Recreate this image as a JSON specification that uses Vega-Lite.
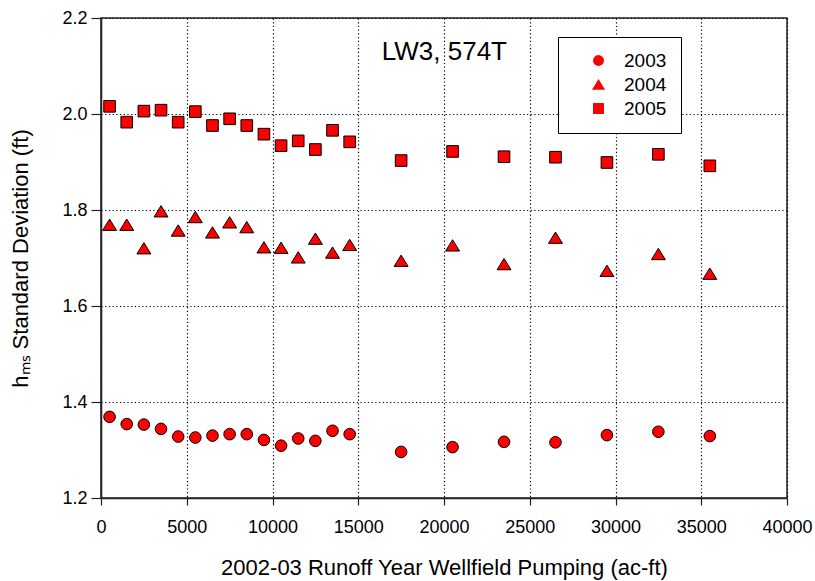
{
  "$schema": "https://vega.github.io/schema/vega-lite/v6.json",
  "width": 686,
  "height": 480,
  "autosize": {"type": "none"},
  "padding": {"left": 101, "top": 18, "right": 28, "bottom": 83},
  "background": "white",
  "config": {
    "font": "Liberation Sans",
    "view": {"stroke": "#222", "strokeWidth": 1.5},
    "axis": {
      "domainColor": "#222",
      "domainWidth": 1.5,
      "tickColor": "#222",
      "tickWidth": 1.2,
      "gridColor": "black",
      "gridDash": [1.2, 2.5],
      "gridWidth": 1.2,
      "gridOpacity": 1,
      "labelColor": "black",
      "titleColor": "black",
      "labelFont": "Liberation Sans",
      "titleFont": "Liberation Sans",
      "titleFontWeight": "normal",
      "labelFontSize": 18,
      "titleFontSize": 22
    }
  },
  "datasets": {
    "pts": [
      {"year": "2003", "pumping": 500, "sd": 1.369},
      {"year": "2003", "pumping": 1500, "sd": 1.354},
      {"year": "2003", "pumping": 2500, "sd": 1.353},
      {"year": "2003", "pumping": 3500, "sd": 1.344},
      {"year": "2003", "pumping": 4500, "sd": 1.328},
      {"year": "2003", "pumping": 5500, "sd": 1.326},
      {"year": "2003", "pumping": 6500, "sd": 1.330},
      {"year": "2003", "pumping": 7500, "sd": 1.333},
      {"year": "2003", "pumping": 8500, "sd": 1.333},
      {"year": "2003", "pumping": 9500, "sd": 1.321},
      {"year": "2003", "pumping": 10500, "sd": 1.309},
      {"year": "2003", "pumping": 11500, "sd": 1.324},
      {"year": "2003", "pumping": 12500, "sd": 1.319},
      {"year": "2003", "pumping": 13500, "sd": 1.340},
      {"year": "2003", "pumping": 14500, "sd": 1.333},
      {"year": "2003", "pumping": 17500, "sd": 1.296},
      {"year": "2003", "pumping": 20500, "sd": 1.306},
      {"year": "2003", "pumping": 23500, "sd": 1.317},
      {"year": "2003", "pumping": 26500, "sd": 1.316},
      {"year": "2003", "pumping": 29500, "sd": 1.331},
      {"year": "2003", "pumping": 32500, "sd": 1.338},
      {"year": "2003", "pumping": 35500, "sd": 1.329},
      {"year": "2004", "pumping": 500, "sd": 1.769},
      {"year": "2004", "pumping": 1500, "sd": 1.769},
      {"year": "2004", "pumping": 2500, "sd": 1.720},
      {"year": "2004", "pumping": 3500, "sd": 1.797},
      {"year": "2004", "pumping": 4500, "sd": 1.757},
      {"year": "2004", "pumping": 5500, "sd": 1.785},
      {"year": "2004", "pumping": 6500, "sd": 1.753},
      {"year": "2004", "pumping": 7500, "sd": 1.774},
      {"year": "2004", "pumping": 8500, "sd": 1.764},
      {"year": "2004", "pumping": 9500, "sd": 1.722},
      {"year": "2004", "pumping": 10500, "sd": 1.721},
      {"year": "2004", "pumping": 11500, "sd": 1.701},
      {"year": "2004", "pumping": 12500, "sd": 1.740},
      {"year": "2004", "pumping": 13500, "sd": 1.711},
      {"year": "2004", "pumping": 14500, "sd": 1.727},
      {"year": "2004", "pumping": 17500, "sd": 1.694},
      {"year": "2004", "pumping": 20500, "sd": 1.726},
      {"year": "2004", "pumping": 23500, "sd": 1.687},
      {"year": "2004", "pumping": 26500, "sd": 1.742},
      {"year": "2004", "pumping": 29500, "sd": 1.673},
      {"year": "2004", "pumping": 32500, "sd": 1.708},
      {"year": "2004", "pumping": 35500, "sd": 1.667},
      {"year": "2005", "pumping": 500, "sd": 2.016},
      {"year": "2005", "pumping": 1500, "sd": 1.983},
      {"year": "2005", "pumping": 2500, "sd": 2.006},
      {"year": "2005", "pumping": 3500, "sd": 2.008},
      {"year": "2005", "pumping": 4500, "sd": 1.983},
      {"year": "2005", "pumping": 5500, "sd": 2.005},
      {"year": "2005", "pumping": 6500, "sd": 1.976},
      {"year": "2005", "pumping": 7500, "sd": 1.990},
      {"year": "2005", "pumping": 8500, "sd": 1.976},
      {"year": "2005", "pumping": 9500, "sd": 1.958},
      {"year": "2005", "pumping": 10500, "sd": 1.934},
      {"year": "2005", "pumping": 11500, "sd": 1.944},
      {"year": "2005", "pumping": 12500, "sd": 1.926},
      {"year": "2005", "pumping": 13500, "sd": 1.966},
      {"year": "2005", "pumping": 14500, "sd": 1.942},
      {"year": "2005", "pumping": 17500, "sd": 1.903},
      {"year": "2005", "pumping": 20500, "sd": 1.922},
      {"year": "2005", "pumping": 23500, "sd": 1.911},
      {"year": "2005", "pumping": 26500, "sd": 1.910},
      {"year": "2005", "pumping": 29500, "sd": 1.899},
      {"year": "2005", "pumping": 32500, "sd": 1.916},
      {"year": "2005", "pumping": 35500, "sd": 1.892}
    ]
  },
  "layer": [
    {
      "data": {"name": "pts"},
      "mark": {"type": "point", "filled": true, "fill": "#ff0000", "stroke": "black", "strokeWidth": 1, "opacity": 1, "size": 135},
      "encoding": {
        "x": {
          "field": "pumping", "type": "quantitative",
          "scale": {"domain": [0, 40000], "nice": false, "zero": false},
          "axis": {
            "title": "2002-03 Runoff Year Wellfield Pumping (ac-ft)",
            "values": [0, 5000, 10000, 15000, 20000, 25000, 30000, 35000, 40000],
            "format": "d",
            "tickSize": 7,
            "labelPadding": 13,
            "titlePadding": 21,
            "labelFlush": false
          }
        },
        "y": {
          "field": "sd", "type": "quantitative",
          "scale": {"domain": [1.2, 2.2], "nice": false, "zero": false},
          "axis": {
            "title": "hₘₛ Standard Deviation (ft)",
            "values": [1.2, 1.4, 1.6, 1.8, 2.0, 2.2],
            "format": ".1f",
            "tickSize": 10,
            "labelPadding": 4,
            "titlePadding": 29,
            "labelFlush": false
          }
        },
        "shape": {
          "field": "year", "type": "nominal",
          "scale": {"domain": ["2003", "2004", "2005"], "range": ["circle", "M-1.2,0.95L1.2,0.95L0,-1.0Z", "square"]},
          "legend": {
            "title": null,
            "orient": "none",
            "legendX": 457,
            "legendY": 19,
            "direction": "vertical",
            "fillColor": "white",
            "strokeColor": "black",
            "padding": 14,
            "symbolSize": 120,
            "symbolFillColor": "#ff0000",
            "symbolStrokeColor": "black",
            "symbolStrokeWidth": 1,
            "symbolOffset": 17,
            "labelOffset": 16,
            "labelFontSize": 19,
            "labelFont": "Liberation Sans",
            "labelColor": "black",
            "rowPadding": 4
          }
        }
      }
    },
    {
      "data": {"values": [{}]},
      "mark": {"type": "text", "align": "left", "baseline": "alphabetic", "fontSize": 26, "font": "Liberation Sans", "color": "black"},
      "encoding": {
        "x": {"datum": 16370, "type": "quantitative"},
        "y": {"datum": 2.1125, "type": "quantitative"},
        "text": {"value": "LW3, 574T"}
      }
    }
  ]
}
